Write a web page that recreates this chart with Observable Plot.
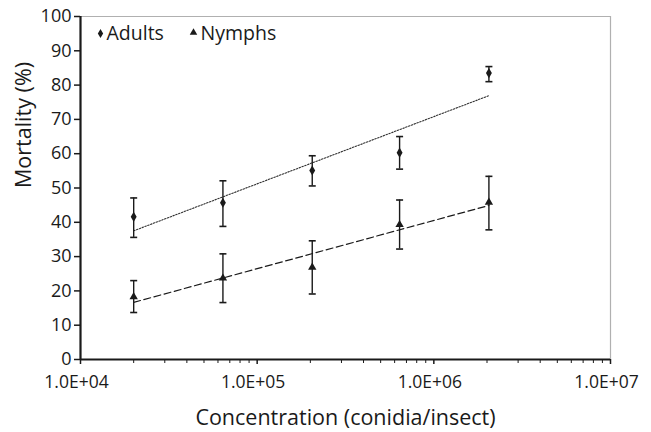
<!DOCTYPE html>
<html>
<head>
<meta charset="utf-8">
<script src="https://cdn.jsdelivr.net/npm/d3@7"></script>
<script src="https://cdn.jsdelivr.net/npm/@observablehq/plot@0.6"></script>
<style>
  html, body { margin: 0; padding: 0; background: #fff; }
</style>
</head>
<body>
<div id="chart"></div>
<script>
const concentration = [2.0e4, 6.4e4, 2.05e5, 6.4e5, 2.05e6];
const adultsMean = [41.6, 45.7, 55.1, 60.3, 83.5];
const adultsLow  = [35.6, 38.8, 50.6, 55.5, 81.0];
const adultsHigh = [47.1, 52.1, 59.4, 65.0, 85.4];
const nymphsMean = [18.3, 23.7, 26.9, 39.3, 45.8];
const nymphsLow  = [13.7, 16.6, 19.1, 32.2, 37.8];
const nymphsHigh = [23.0, 30.8, 34.6, 46.5, 53.4];
const seriesNames = ["Adults", "Nymphs"];
const xTicks = [1e4, 1e5, 1e6, 1e7];
const yTicks = [0, 10, 20, 30, 40, 50, 60, 70, 80, 90, 100];
const xLabel = "Concentration (conidia/insect)";
const yLabel = "Mortality (%)";

const minorTicks = [];
for (const dec of [1e4, 1e5, 1e6]) for (let k = 2; k <= 9; k++) minorTicks.push(dec * k);

function rows(name, mean, lo, hi) {
  return concentration.map((c, i) => ({series: name, x: c, y: mean[i], lo: lo[i], hi: hi[i]}));
}
const adults = rows("Adults", adultsMean, adultsLow, adultsHigh);
const nymphs = rows("Nymphs", nymphsMean, nymphsLow, nymphsHigh);

function trend(data) {
  const lx = data.map(d => Math.log10(d.x));
  const mx = d3.mean(lx), my = d3.mean(data, d => d.y);
  let sxy = 0, sxx = 0;
  data.forEach((d, i) => { sxy += (lx[i] - mx) * (d.y - my); sxx += (lx[i] - mx) ** 2; });
  const b = sxy / sxx, a = my - b * mx;
  const ends = [data[0].x, data[data.length - 1].x];
  return ends.map(x => ({x, y: a + b * Math.log10(x)}));
}

const fmt = d => {
  const [m, e] = d.toExponential(1).split("e");
  return m + "E" + e[0] + e.slice(1).padStart(2, "0");
};

const capSymbol = {
  draw(context, size) {
    const w = 3.5;
    context.moveTo(-w, 0);
    context.lineTo(w, 0);
  }
};

const ink = "#1a1a1a";

const all = adults.concat(nymphs);

const chart = Plot.plot({
  width: 651,
  height: 432,
  marginLeft: 80,
  marginRight: 41,
  marginTop: 16,
  marginBottom: 73,
  style: {fontFamily: "'Open Sans', sans-serif", fontSize: "18px", color: ink, background: "#fff"},
  x: {type: "log", domain: [1e4, 1e7]},
  y: {domain: [0, 100]},
  marks: [
    Plot.ruleY([100], {stroke: "#b0b0b0", strokeWidth: 1.2}),
    Plot.ruleX([1e7], {stroke: "#b0b0b0", strokeWidth: 1.2}),
    Plot.axisY({ticks: yTicks, tickSize: 6, tickPadding: 3, label: null, fontSize: 18, strokeWidth: 1.5}),
    Plot.axisX({ticks: xTicks, tickFormat: () => "", tickSize: 5, label: null, strokeWidth: 1.5}),
    Plot.axisX({ticks: xTicks, tickFormat: fmt, tickSize: 0, tickPadding: 16, dx: -4, label: null, fontSize: 17.5}),
    Plot.axisX({ticks: minorTicks, tickFormat: () => "", tickSize: 4, label: null, strokeWidth: 1}),
    Plot.line(trend(adults), {x: "x", y: "y", stroke: "#333", strokeWidth: 1.1, strokeDasharray: "1.5,1.5"}),
    Plot.line(trend(nymphs), {x: "x", y: "y", stroke: ink, strokeWidth: 1.2, strokeDasharray: "7,3.5"}),
    Plot.ruleX(all, {x: "x", y1: "lo", y2: "hi", stroke: ink, strokeWidth: 1.4}),
    Plot.dot(all, {x: "x", y: "lo", symbol: capSymbol, stroke: ink, strokeWidth: 1.6}),
    Plot.dot(all, {x: "x", y: "hi", symbol: capSymbol, stroke: ink, strokeWidth: 1.6}),
    Plot.dot(adults, {x: "x", y: "y", symbol: "diamond", r: 3.1, fill: ink}),
    Plot.dot(nymphs, {x: "x", y: "y", symbol: "triangle", r: 3.1, fill: ink}),
    Plot.ruleX([1e4], {stroke: ink, strokeWidth: 2.2}),
    Plot.ruleY([0], {stroke: ink, strokeWidth: 2.2}),
    // legend
    Plot.dot([seriesNames[0]], {frameAnchor: "top-left", dx: 20, dy: 17, symbol: "diamond", r: 2.8, fill: ink}),
    Plot.text([seriesNames[0]], {frameAnchor: "top-left", dx: 26, dy: 17, text: d => d, textAnchor: "start", lineAnchor: "middle", fontSize: 19.5, fill: ink}),
    Plot.dot([seriesNames[1]], {frameAnchor: "top-left", dx: 113, dy: 16, symbol: "triangle", r: 2.8, fill: ink}),
    Plot.text([seriesNames[1]], {frameAnchor: "top-left", dx: 120, dy: 17, text: d => d, textAnchor: "start", lineAnchor: "middle", fontSize: 19.5, fill: ink}),
    // axis titles
    Plot.text([xLabel], {frameAnchor: "bottom", dy: 59, text: d => d, lineAnchor: "middle", fontSize: 21.5, fill: ink}),
    Plot.text([yLabel], {frameAnchor: "left", dx: -56, text: d => d, rotate: -90, lineAnchor: "middle", fontSize: 21.5, fill: ink})
  ]
});
document.getElementById("chart").appendChild(chart);
</script>
</body>
</html>
